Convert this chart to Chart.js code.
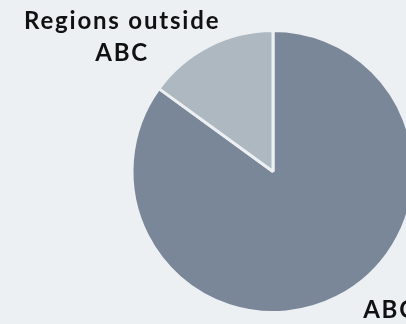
<!DOCTYPE html>
<html>
<head>
<meta charset="utf-8">
<script src="https://cdn.jsdelivr.net/npm/chart.js@4.4.0/dist/chart.umd.min.js"></script>
<style>
  html, body { margin: 0; padding: 0; background: #edf0f3; overflow: hidden; }
  #wrap { width: 416px; height: 324px; }
</style>
</head>
<body>
<div id="wrap"><canvas id="pieChart"></canvas></div>
<script>
// chart data
const categories = ['ABC', 'Regions outside ABC'];
const shares = [85, 15];
const sliceColors = ['#7a8799', '#adb8c1'];

// label text lines for each slice (split like the picture)
const labelLines = [['ABC'], ['Regions outside', 'ABC']];

// draws the slice labels around the pie, placed relative to the pie centre
const sliceLabels = {
    id: 'sliceLabels',
    afterDraw(chart, args, opts) {
        const ctx = chart.ctx;
        const arcs = chart.getDatasetMeta(0).data;
        ctx.save();
        ctx.fillStyle = '#111';
        ctx.font = opts.font;
        ctx.letterSpacing = opts.spacing;
        ctx.textAlign = 'center';
        ctx.textBaseline = 'alphabetic';
        arcs.forEach((arc, i) => {
            const r = arc.outerRadius;
            const pos = opts.offsets[i];
            const x = arc.x + pos[0] * r;
            let y = arc.y + pos[1] * r;
            labelLines[i].forEach(line => {
                ctx.fillText(line, x, y);
                y += opts.lineHeight;
            });
        });
        ctx.restore();
    }
};

new Chart(document.getElementById('pieChart'), {
    type: 'pie',
    data: {
        labels: categories,
        datasets: [{
            data: shares,
            backgroundColor: sliceColors,
            borderColor: '#edf0f3',
            borderWidth: 3
        }]
    },
    options: {
        responsive: true,
        maintainAspectRatio: false,
        animation: false,
        layout: { padding: { left: 130, top: 29, right: 0, bottom: 10 } },
        plugins: {
            legend: { display: false },
            tooltip: { enabled: false },
            sliceLabels: {
                font: 'bold 24px Lato',
                spacing: '1.8px',
                lineHeight: 32,
                offsets: [[0.83, 1.04], [-1.07, -1.010]]
            }
        }
    },
    plugins: [sliceLabels]
});
</script>
</body>
</html>
